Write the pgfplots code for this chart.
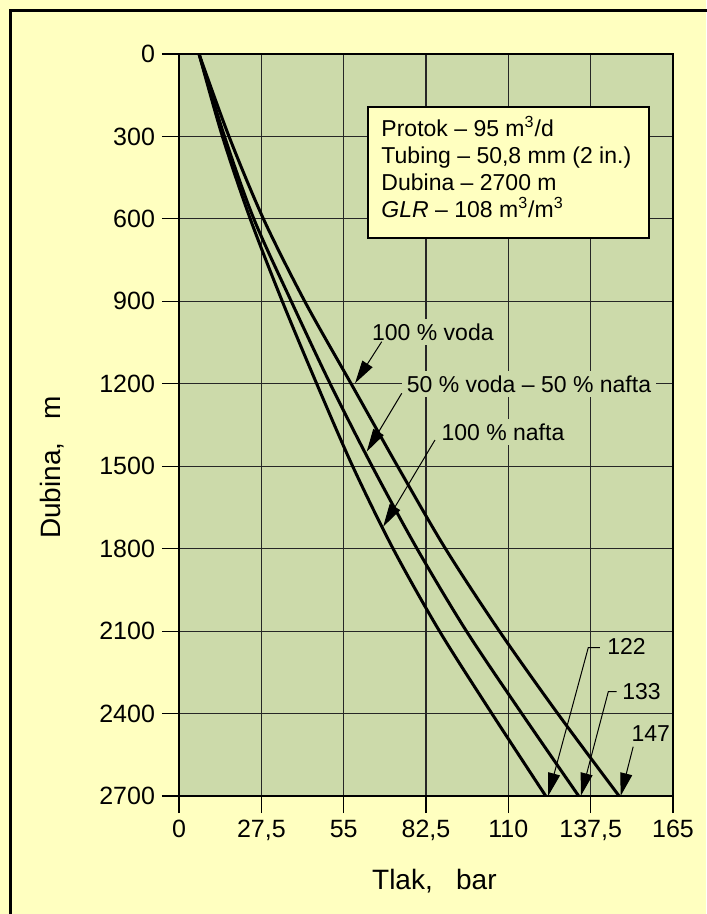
\documentclass[border=0pt]{standalone}
\usepackage{fontspec}
\setmainfont{Liberation Sans}
\usepackage{pgfplots}
\pgfplotsset{compat=1.18}
\usetikzlibrary{arrows.meta}
\definecolor{bgyellow}{RGB}{255,255,192}
\definecolor{plotgreen}{RGB}{204,218,170}
\begin{document}
\begin{tikzpicture}
\fill[bgyellow] (-89.5pt,-59pt) rectangle (263.5pt,398pt);
\useasboundingbox (-89.5pt,-59pt) rectangle (263.5pt,398pt);
\draw[line width=1.5pt] (-84pt,-62pt) -- (-84pt,392.5pt) -- (266pt,392.5pt);
\begin{axis}[
  at={(0,0)}, anchor=south west,
  scale only axis, width=247pt, height=371pt,
  xmin=0, xmax=165, ymin=0, ymax=2700, y dir=reverse,
  xtick={0,27.5,55,82.5,110,137.5,165},
  xticklabels={0,{27,5},55,{82,5},110,{137,5},165},
  ytick={0,300,...,2700},
  yticklabels={0,300,600,900,1200,1500,1800,2100,2400,2700},
  tick align=outside, xtick pos=bottom, xticklabel pos=bottom, ytick pos=left,
  major tick length=8.5pt,
  tick style={black, line width=0.6pt},
  grid=major, major grid style={black!85, line width=0.6pt},
  axis line style={line width=1pt},
  axis background/.style={fill=plotgreen},
  ticklabel style={font=\fontsize{12.5}{15}\selectfont},
  xlabel={Tlak,\ \ \ bar}, ylabel={Dubina,\ \ \ m},
  label style={font=\fontsize{14}{17}\selectfont},
  xlabel style={at={(axis description cs:0.517,-0.1146)}, anchor=center},
  ylabel style={at={(axis description cs:-0.257,0.443)}, anchor=center},
  clip=false,
]
% info box
\draw[fill=bgyellow, line width=0.6pt] (axis cs:63.1,192.9) rectangle (axis cs:157,669.6);
\node[anchor=base west, inner sep=0pt, font=\fontsize{11.5}{14}\selectfont] at (axis cs:67.5,300.9) {Protok -- 95 m\textsuperscript{3}/d};
\node[anchor=base west, inner sep=0pt, font=\fontsize{11.5}{14}\selectfont] at (axis cs:67.5,399) {Tubing -- 50,8 mm (2 in.)};
\node[anchor=base west, inner sep=0pt, font=\fontsize{11.5}{14}\selectfont] at (axis cs:67.5,497) {Dubina -- 2700 m};
\node[anchor=base west, inner sep=0pt, font=\fontsize{11.5}{14}\selectfont] at (axis cs:67.5,595) {\textit{GLR} -- 108 m\textsuperscript{3}/m\textsuperscript{3}};
% labels
\node[fill=plotgreen, inner sep=2.5pt, font=\fontsize{11.5}{14}\selectfont] at (axis cs:84.8,1011.6) {100 \% voda};
\node[fill=plotgreen, inner sep=2.5pt, font=\fontsize{11.5}{14}\selectfont] at (axis cs:116.9,1200.8) {50 \% voda -- 50 \% nafta};
\node[fill=plotgreen, inner sep=2.5pt, font=\fontsize{11.5}{14}\selectfont] at (axis cs:108.2,1375.5) {100 \% nafta};
\node[fill=plotgreen, inner sep=1pt, font=\fontsize{11.5}{14}\selectfont] at (axis cs:149.5,2157) {122};
\node[fill=plotgreen, inner sep=1pt, font=\fontsize{11.5}{14}\selectfont] at (axis cs:154.5,2320) {133};
\node[fill=plotgreen, inner sep=1pt, font=\fontsize{11.5}{14}\selectfont] at (axis cs:157.6,2472.6) {147};
% curves
\addplot[smooth, line width=1.5pt, black] coordinates {
(6.7,0) (14.5,300) (23.8,600) (34.5,900) (46,1200) (58,1500) (71.5,1800) (87,2100) (104.5,2400) (122.5,2700)};
\addplot[smooth, line width=1.5pt, black] coordinates {
(6.7,0) (15.2,300) (25,600) (37.5,900) (50.5,1200) (64.5,1500) (79.5,1800) (96,2100) (114.5,2400) (133.5,2700)};
\addplot[smooth, line width=1.5pt, black] coordinates {
(6.7,0) (16.7,300) (28.2,600) (42,900) (57.5,1200) (73,1500) (89,1800) (107,2100) (126.5,2400) (147,2700)};
% arrows
\draw[line width=0.5pt, -{Triangle[length=11.5pt,width=6pt]}] (axis cs:67.7,1047) -- (axis cs:58.8,1198);
\draw[line width=0.5pt, -{Triangle[length=11.5pt,width=6pt]}] (axis cs:74.4,1234.6) -- (axis cs:62.7,1447);
\draw[line width=0.5pt, -{Triangle[length=11.5pt,width=6pt]}] (axis cs:85.5,1404.6) -- (axis cs:68.2,1720);
\draw[line width=0.5pt, -{Triangle[length=11.5pt,width=6pt]}] (axis cs:140.6,2160) -- (axis cs:136.7,2160) -- (axis cs:123.3,2700);
\draw[line width=0.5pt, -{Triangle[length=11.5pt,width=6pt]}] (axis cs:146.2,2320) -- (axis cs:143.4,2320) -- (axis cs:134.2,2700);
\draw[line width=0.5pt, -{Triangle[length=11.5pt,width=6pt]}] (axis cs:151.7,2520.6) -- (axis cs:147.5,2700);
\end{axis}
\end{tikzpicture}
\end{document}
